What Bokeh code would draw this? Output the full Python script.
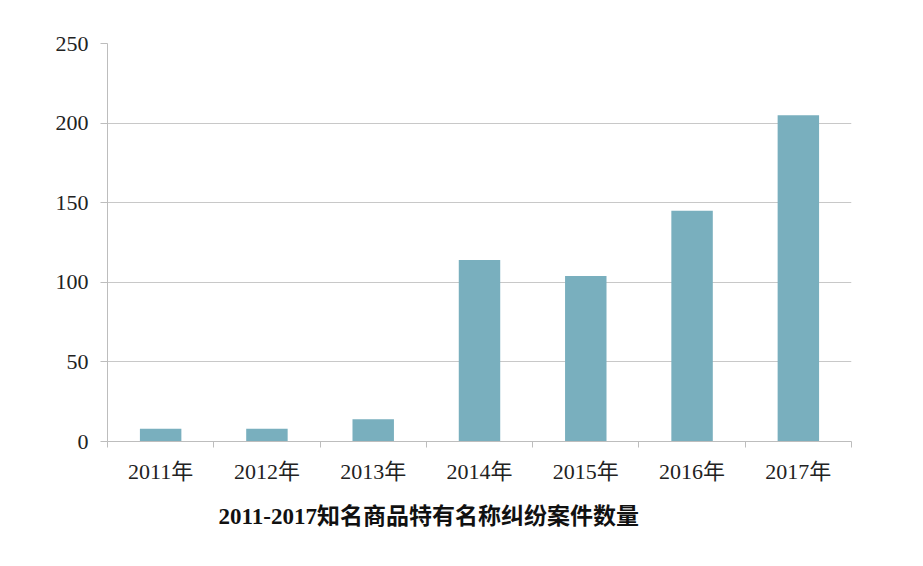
from bokeh.plotting import figure
from bokeh.models import FixedTicker, Range1d, Title, ColumnDataSource
from bokeh.embed import file_html
from bokeh.resources import INLINE

categories = ["2011年", "2012年", "2013年", "2014年", "2015年", "2016年", "2017年"]
counts = [8, 8, 14, 114, 104, 145, 205]
y_ticks = [0, 50, 100, 150, 200, 250]
title_text = "2011-2017知名商品特有名称纠纷案件数量"

xpos = [i + 0.5 for i in range(len(categories))]
source = ColumnDataSource(dict(x=xpos, top=counts, cat=categories))

p = figure(width=907, height=550, output_backend="svg", toolbar_location=None,
           x_range=Range1d(0, len(categories)), y_range=Range1d(0, 250),
           min_border_left=107, min_border_right=56, min_border_top=43, min_border_bottom=109)
p.outline_line_color = None
p.background_fill_color = "white"
p.border_fill_color = "white"

p.vbar(x="x", top="top", width=0.39, source=source, color="#79AFBE", line_color=None)

font = "Liberation Serif, Noto Sans CJK SC"
grey = "#BDBDBD"

# y axis
p.yaxis.ticker = FixedTicker(ticks=y_ticks)
p.yaxis.axis_line_color = grey
p.yaxis.major_tick_line_color = grey
p.yaxis.major_tick_out = 7
p.yaxis.major_tick_in = 0
p.yaxis.minor_tick_line_color = None
p.yaxis.major_label_standoff = 12
p.yaxis.major_label_text_font = font
p.yaxis.major_label_text_font_size = "22px"
p.yaxis.major_label_text_color = "#222222"

# x axis
p.xaxis.ticker = FixedTicker(ticks=xpos, minor_ticks=list(range(len(categories) + 1)))
p.xaxis.major_label_overrides = {x: c for x, c in zip(xpos, categories)}
p.xaxis.axis_line_color = grey
p.xaxis.major_tick_line_color = None
p.xaxis.minor_tick_line_color = grey
p.xaxis.minor_tick_out = 6
p.xaxis.minor_tick_in = 0
p.xaxis.major_label_standoff = 11
p.xaxis.major_label_text_font = font
p.xaxis.major_label_text_font_size = "22px"
p.xaxis.major_label_text_color = "#222222"

p.xgrid.grid_line_color = None
p.ygrid.ticker = FixedTicker(ticks=y_ticks[1:])
p.ygrid.grid_line_color = "#C8C8C8"

t = Title(text=title_text, align="left", offset=111, text_font=font,
          text_font_size="23px", text_font_style="bold", text_color="#111111",
          standoff=31)
p.add_layout(t, "below")

open("out.html", "w").write(file_html(p, INLINE))
